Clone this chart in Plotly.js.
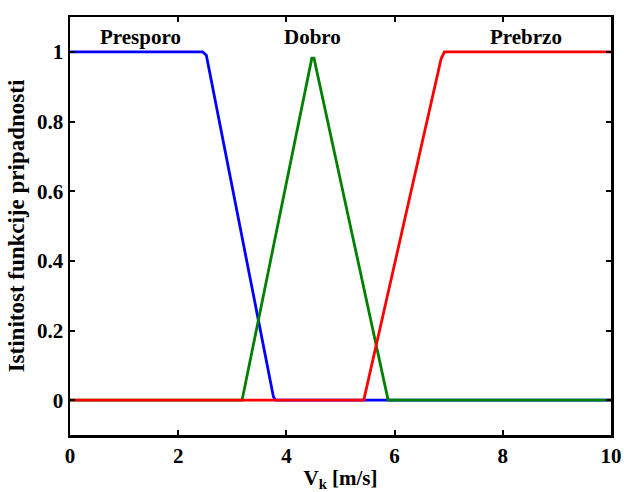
<!DOCTYPE html>
<html>
<head>
<meta charset="utf-8">
<script src="https://cdn.plot.ly/plotly-3.0.1.min.js"></script>
<style>html,body{margin:0;padding:0;background:#fff;}#chart{width:624px;height:492px;}</style>
</head>
<body>
<div id="chart"></div>
<script>
// Membership functions
const presporoX = [0, 2.45, 2.52, 3.76, 3.8, 10];
const presporoY = [1, 1, 0.99, 0.01, 0, 0];
const dobroX = [0, 3.18, 3.22, 4.47, 4.51, 5.88, 10];
const dobroY = [0, 0, 0.03, 0.982, 0.982, 0, 0];
const prebrzoX = [0, 5.43, 6.86, 6.92, 10];
const prebrzoY = [0, 0, 0.98, 1, 1];
const labels = ["Presporo", "Dobro", "Prebrzo"];
const labelX = [1.3, 4.48, 8.43];
const labelY = [1.043, 1.043, 1.043];
const xTicks = [0, 2, 4, 6, 8, 10];
const yTicks = [0, 0.2, 0.4, 0.6, 0.8, 1];
const yTickText = ["0", "0.2", "0.4", "0.6", "0.8", "1"];

const font = {family: "Liberation Serif, Times New Roman, serif", size: 21, color: "#000", weight: "bold"};

const traces = [
  {x: presporoX, y: presporoY, mode: "lines", line: {color: "rgb(0,0,255)", width: 2.8}, name: labels[0]},
  {x: dobroX, y: dobroY, mode: "lines", line: {color: "rgb(0,128,0)", width: 2.8}, name: labels[1]},
  {x: prebrzoX, y: prebrzoY, mode: "lines", line: {color: "rgb(255,0,0)", width: 2.8}, name: labels[2]}
];

const annotations = labels.map((t, i) => ({
  x: labelX[i], y: labelY[i], xref: "x", yref: "y", text: "<b>" + t + "</b>",
  showarrow: false, font: Object.assign({}, font, {size: 21})
}));

const axisCommon = {
  showgrid: false, zeroline: false, showline: true, linecolor: "#000", linewidth: 2.5,
  mirror: "ticks", ticks: "inside", ticklen: 5, tickwidth: 2, tickcolor: "#000",
  tickfont: font
};

const layout = {
  width: 624, height: 492,
  margin: {l: 70, r: 13, t: 17, b: 57},
  paper_bgcolor: "#fff", plot_bgcolor: "#fff",
  showlegend: false,
  font: font,
  xaxis: Object.assign({}, axisCommon, {
    range: [0, 10], tickvals: xTicks, ticktext: xTicks.map(String),
    title: {text: "<b>V<sub>k</sub> [m/s]</b>", font: font, standoff: 4}
  }),
  yaxis: Object.assign({}, axisCommon, {
    range: [-0.1, 1.1], tickvals: yTicks, ticktext: yTickText,
    title: {text: "<b>Istinitost funkcije pripadnosti</b>", font: Object.assign({}, font, {size: 23}), standoff: 6}
  }),
  annotations: annotations
};

Plotly.newPlot("chart", traces, layout, {displayModeBar: false, staticPlot: true});
</script>
</body>
</html>
